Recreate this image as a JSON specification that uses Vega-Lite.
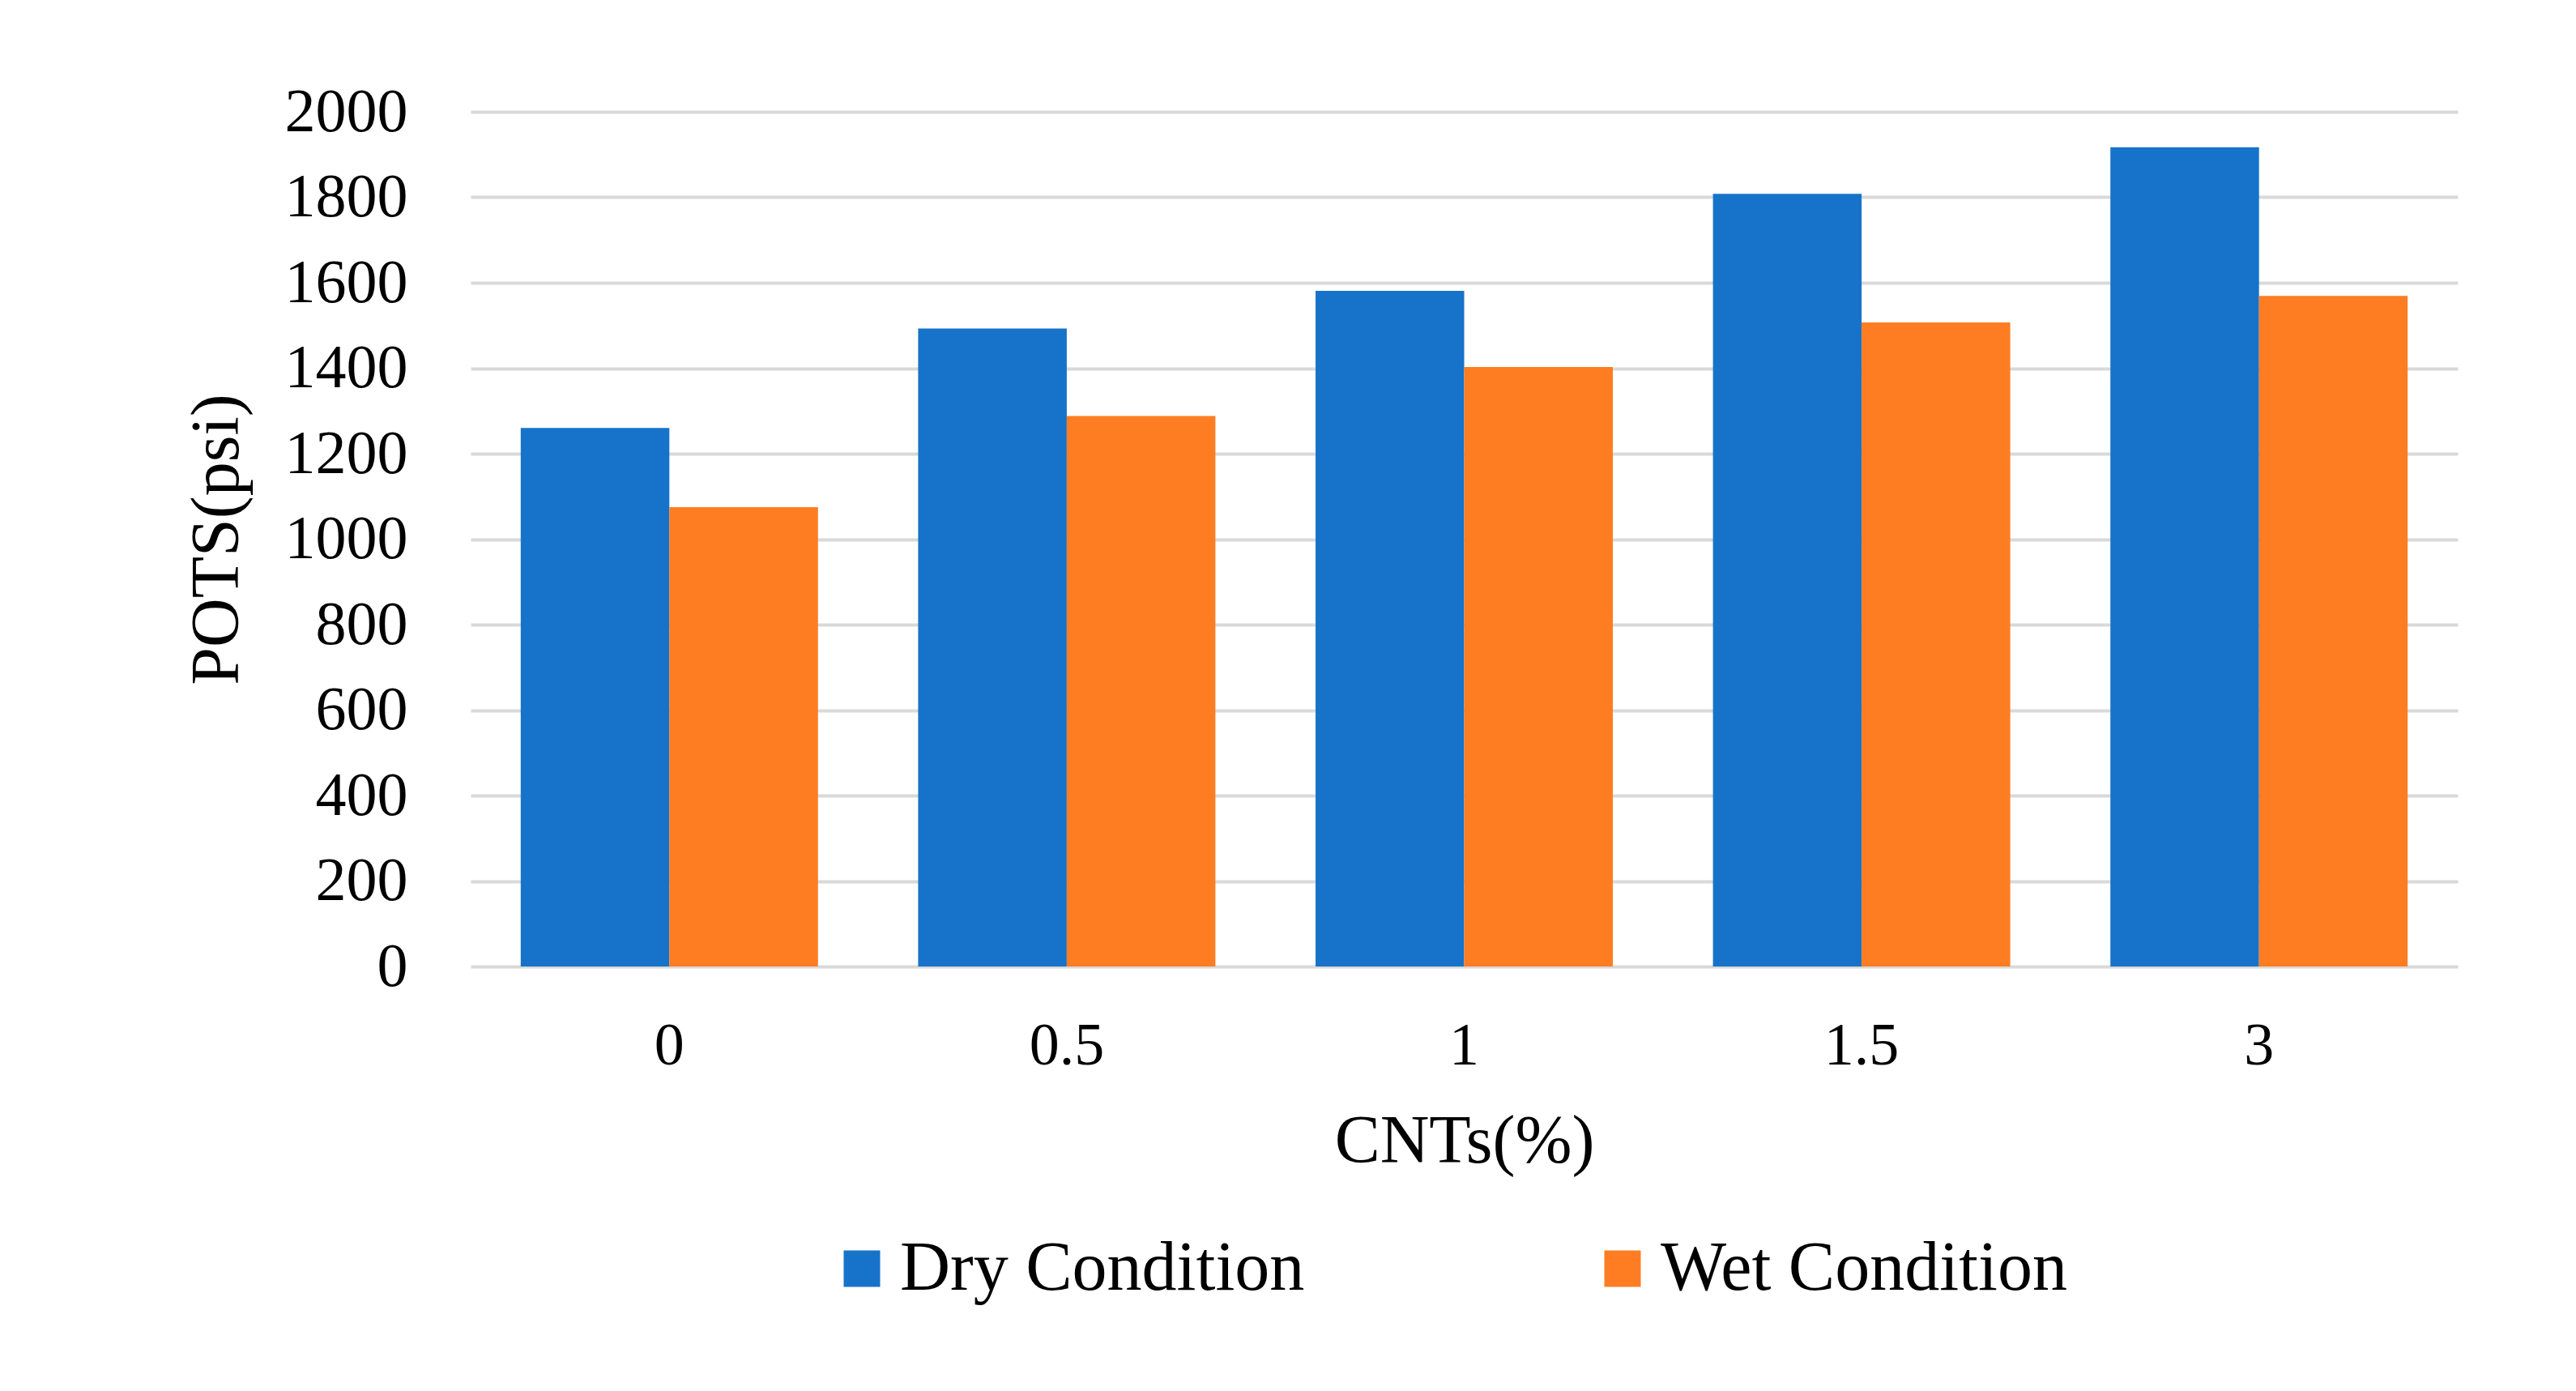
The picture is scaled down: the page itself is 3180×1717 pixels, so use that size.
{
  "$schema": "https://vega.github.io/schema/vega-lite/v6.json",
  "description": "POTS by CNT content, dry vs wet",
  "autosize": {"type": "none"},
  "padding": {"left": 581, "top": 138, "right": 146, "bottom": 524},
  "width": 2453,
  "height": 1055,
  "background": "#ffffff",
  "config": {
    "view": {"stroke": null},
    "font": "Liberation Serif",
    "axis": {"labelFont": "Liberation Serif", "titleFont": "Liberation Serif", "labelColor": "#000000", "titleColor": "#000000", "titleFontWeight": "normal"},
    "legend": {"labelFont": "Liberation Serif", "labelColor": "#000000"}
  },
  "data": {
    "values": [
      {"cnt": "0", "condition": "Dry Condition", "pots": 1260},
      {"cnt": "0", "condition": "Wet Condition", "pots": 1075},
      {"cnt": "0.5", "condition": "Dry Condition", "pots": 1493},
      {"cnt": "0.5", "condition": "Wet Condition", "pots": 1288},
      {"cnt": "1", "condition": "Dry Condition", "pots": 1581},
      {"cnt": "1", "condition": "Wet Condition", "pots": 1403},
      {"cnt": "1.5", "condition": "Dry Condition", "pots": 1808},
      {"cnt": "1.5", "condition": "Wet Condition", "pots": 1507},
      {"cnt": "3", "condition": "Dry Condition", "pots": 1917},
      {"cnt": "3", "condition": "Wet Condition", "pots": 1569}
    ]
  },
  "mark": {"type": "bar"},
  "encoding": {
    "x": {
      "field": "cnt",
      "type": "nominal",
      "sort": ["0", "0.5", "1", "1.5", "3"],
      "scale": {"paddingInner": 0.252, "paddingOuter": 0.126},
      "axis": {
        "title": "CNTs(%)",
        "titleFontSize": 84,
        "titlePadding": 40,
        "labelFontSize": 74,
        "labelAngle": 0,
        "labelPadding": 62,
        "domain": false,
        "ticks": false,
        "grid": false
      }
    },
    "xOffset": {"field": "condition", "type": "nominal", "scale": {"paddingInner": 0}},
    "y": {
      "field": "pots",
      "type": "quantitative",
      "scale": {"domain": [0, 2000]},
      "axis": {
        "title": "POTS(psi)",
        "titleFontSize": 84,
        "titlePadding": 70,
        "labelFontSize": 76,
        "labelPadding": 78,
        "format": "d",
        "values": [0, 200, 400, 600, 800, 1000, 1200, 1400, 1600, 1800, 2000],
        "domain": false,
        "ticks": false,
        "tickSize": 0,
        "grid": true,
        "gridColor": "#d9d9d9",
        "gridWidth": 4
      }
    },
    "color": {
      "field": "condition",
      "type": "nominal",
      "scale": {"domain": ["Dry Condition", "Wet Condition"], "range": ["#1673c9", "#ff7d22"]},
      "legend": {
        "title": null,
        "orient": "none",
        "legendX": 440,
        "legendY": 1385,
        "direction": "horizontal",
        "columns": 2,
        "columnPadding": 349,
        "symbolType": "square",
        "symbolSize": 2025,
        "symbolStrokeWidth": 0,
        "labelOffset": 4,
        "labelFontSize": 86,
        "labelLimit": 0
      }
    }
  }
}
